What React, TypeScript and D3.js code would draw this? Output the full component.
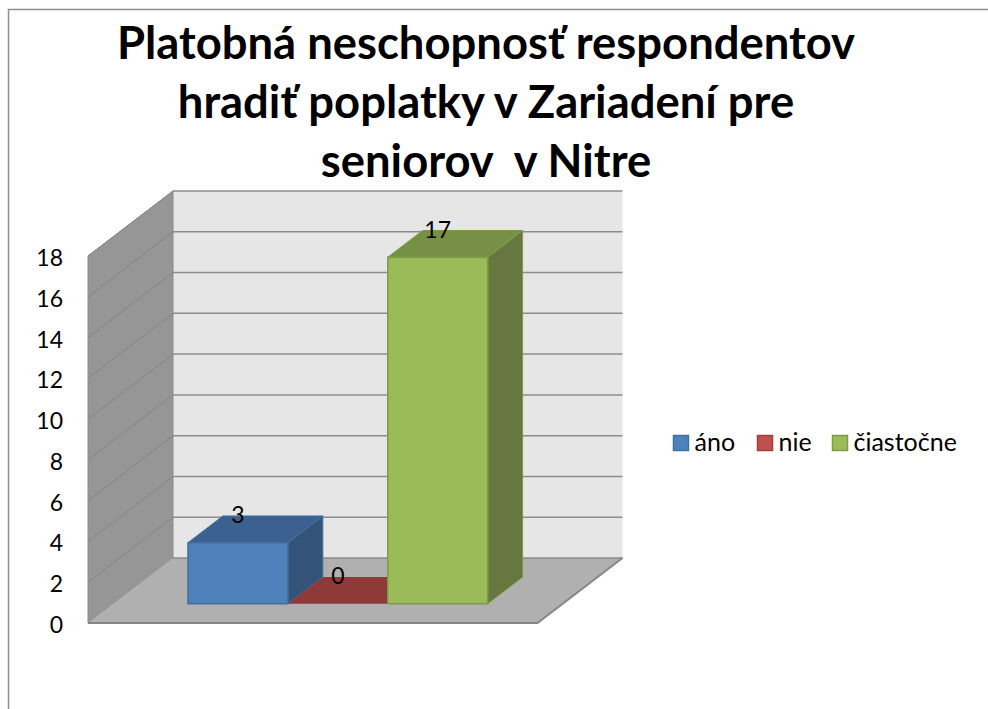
import * as d3 from 'd3'

const titleLines = ['Platobná neschopnosť respondentov', 'hradiť poplatky v Zariadení pre', 'seniorov  v Nitre']
const categories = ['áno', 'nie', 'čiastočne']
const values = [3, 0, 17]
const ticks = [0, 2, 4, 6, 8, 10, 12, 14, 16, 18]
const frontColors = ['#4F81BD', '#C0504D', '#9BBB59']
const topColors = ['#3C608F', '#8E3A38', '#769045']
const sideColors = ['#335379', '#7A3230', '#66783F']
const edgeColors = ['#41709F', '#A0403E', '#7F9A48']
const legendX = [673.5, 757.5, 832.5]

const W = 988
const H = 709
const FONT = 'Lato, Carlito, sans-serif'

const x = d3.scaleBand<string>().domain(categories).range([88, 537.5]).paddingInner(0).paddingOuter(0.75)
const y = d3.scaleLinear().domain([0, 18]).range([623, 256])
// depth of the 3D box: 0 at the front plane, 1 at the back wall
const depthX = d3.scaleLinear().domain([0, 1]).range([0, 85])
const depthY = d3.scaleLinear().domain([0, 1]).range([0, -65])
const BAR_FRONT = 0.295
const BAR_BACK = 0.706

const pt = (px: number, v: number, d: number) => [px + depthX(d), y(v) + depthY(d)] as [number, number]
const poly = (pts: [number, number][]) => d3.line()(pts) + 'Z'

export default function App() {
  const left = x.range()[0]
  const right = x.range()[1]
  const yMax = y.domain()[1]

  return (
    <svg width={W} height={H} viewBox={`0 0 ${W} ${H}`} style={{ position: 'absolute', left: 0, top: 0, display: 'block', background: '#fff' }}>
      <path d={`M8.5,${H}V9.5H${W}`} fill="none" stroke="#8E8E8E" strokeWidth={1.5} />

      {titleLines.map((t, i) => (
        <text key={i} x={486} y={58.5 + i * 59} textAnchor="middle" fontFamily={FONT} fontWeight={700} fontSize={45.4} fill="#000" xmlSpace="preserve">{t}</text>
      ))}

      {/* walls and floor */}
      <path d={poly([pt(left, 0, 1), pt(right, 0, 1), pt(right, yMax, 1), pt(left, yMax, 1)])} fill="#E6E6E6" />
      <path d={poly([pt(left, 0, 0), pt(left, 0, 1), pt(left, yMax, 1), pt(left, yMax, 0)])} fill="#969696" stroke="#8A8A8A" />
      <path d={poly([pt(left, 0, 0), pt(right, 0, 0), pt(right, 0, 1), pt(left, 0, 1)])} fill="#B0B0B0" />

      {ticks.map(t => (
        <g key={t}>
          {t > 0 && <path d={d3.line()([pt(left, t, 0), pt(left, t, 1)])!} stroke="#868686" strokeWidth={1} fill="none" />}
          <path d={d3.line()([pt(left, t, 1), pt(right, t, 1)])!} stroke="#8C8C8C" strokeWidth={1.5} fill="none" />
          <text x={63} y={y(t) + 10} textAnchor="end" fontFamily={FONT} fontSize={23} fill="#000">{t}</text>
        </g>
      ))}
      <path d={d3.line()([pt(left, 0, 0), pt(right, 0, 0), pt(right, 0, 1)])!} stroke="#868686" strokeWidth={2} fill="none" />

      {/* bars */}
      {categories.map((c, i) => {
        const x0 = x(c)!
        const x1 = x0 + x.bandwidth()
        const v = values[i]
        return (
          <g key={c}>
            <path d={poly([pt(x1, 0, BAR_FRONT), pt(x1, 0, BAR_BACK), pt(x1, v, BAR_BACK), pt(x1, v, BAR_FRONT)])} fill={sideColors[i]} stroke={v > 0 ? edgeColors[i] : 'none'} />
            <path d={poly([pt(x0, v, BAR_FRONT), pt(x1, v, BAR_FRONT), pt(x1, v, BAR_BACK), pt(x0, v, BAR_BACK)])} fill={topColors[i]} stroke={v > 0 ? edgeColors[i] : 'none'} />
            {v > 0 && <path d={poly([pt(x0, 0, BAR_FRONT), pt(x1, 0, BAR_FRONT), pt(x1, v, BAR_FRONT), pt(x0, v, BAR_FRONT)])} fill={frontColors[i]} stroke={edgeColors[i]} strokeWidth={1.5} />}
          </g>
        )
      })}

      {categories.map((c, i) => {
        const [lx, ly] = pt(x(c)! + x.bandwidth() / 2, values[i], BAR_FRONT)
        return (
          <text key={c} x={lx} y={ly - 19.5} textAnchor="middle" fontFamily={FONT} fontSize={23} fill="#000">{values[i]}</text>
        )
      })}

      {/* legend */}
      {categories.map((c, i) => (
        <g key={c}>
          <rect x={legendX[i]} y={435.5} width={15} height={15} fill={frontColors[i]} stroke={edgeColors[i]} strokeWidth={1.5} />
          <text x={legendX[i] + 21} y={451} fontFamily={FONT} fontSize={25} fill="#000">{c}</text>
        </g>
      ))}
    </svg>
  )
}
